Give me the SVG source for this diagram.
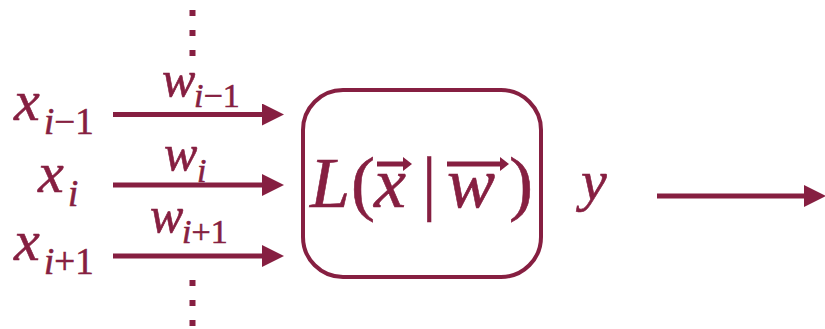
<svg xmlns="http://www.w3.org/2000/svg" width="825" height="329" viewBox="0 0 825 329">
<style>
text{font-family:'Liberation Serif','Times New Roman',serif;fill:#861F41;stroke:#861F41;stroke-width:0.6}
.i{font-style:italic}
.ln{stroke:#861F41;stroke-width:5;fill:none}
.hd{fill:#861F41}
</style>
<defs>
<marker id="ah" markerWidth="22" markerHeight="22" viewBox="0 0 22 22" refX="0" refY="11" orient="auto" markerUnits="userSpaceOnUse">
<path d="M0,0 L22,11 L0,22 z" fill="#861F41"/>
</marker>
</defs>
<rect width="825" height="329" fill="#fff"/>
<g id="connectors">
<line class="ln" x1="113" y1="114.5" x2="262" y2="114.5" marker-end="url(#ah)"/>
<line class="ln" x1="113" y1="185" x2="262" y2="185" marker-end="url(#ah)"/>
<line class="ln" x1="113" y1="256" x2="262" y2="256" marker-end="url(#ah)"/>
<line class="ln" x1="657" y1="196" x2="804" y2="196" marker-end="url(#ah)"/>
</g>
<g id="dots-top" class="hd">
<rect x="189.5" y="10" width="6" height="6"/>
<rect x="189.5" y="30" width="6" height="6"/>
<rect x="189.5" y="50" width="6" height="6"/>
</g>
<g id="dots-bottom" class="hd">
<rect x="189.5" y="280" width="6" height="6"/>
<rect x="189.5" y="300" width="6" height="6"/>
<rect x="189.5" y="320" width="6" height="6"/>
</g>
<g id="x-im1">
<text class="i" x="14" y="120" font-size="58">x</text>
<text x="44" y="134" font-size="37"><tspan class="i">i</tspan>−1</text>
</g>
<g id="x-i">
<text class="i" x="38" y="192" font-size="58">x</text>
<text class="i" x="68" y="206" font-size="37">i</text>
</g>
<g id="x-ip1">
<text class="i" x="14" y="260" font-size="58">x</text>
<text x="44" y="274" font-size="37"><tspan class="i">i</tspan>+1</text>
</g>
<g id="w-im1">
<text class="i" x="162" y="96" font-size="50">w</text>
<text x="194" y="107" font-size="34"><tspan class="i">i</tspan>−1</text>
</g>
<g id="w-i">
<text class="i" x="164" y="170" font-size="50">w</text>
<text class="i" x="197" y="182" font-size="34">i</text>
</g>
<g id="w-ip1">
<text class="i" x="150" y="232" font-size="50">w</text>
<text x="182" y="243" font-size="34"><tspan class="i">i</tspan>+1</text>
</g>
<g id="node-L">
<rect x="303" y="90" width="238" height="187" rx="40" ry="40" fill="none" stroke="#861F41" stroke-width="4"/>
<text class="i" x="310" y="207" font-size="72">L</text>
<text x="351" y="207" font-size="72">(</text>
<text class="i" x="374" y="207" font-size="72">x</text>
<text x="422" y="207" font-size="72">|</text>
<text class="i" x="447" y="207" font-size="72">w</text>
<text x="509" y="207" font-size="72">)</text>
<path class="ln" d="M377,164 H405" stroke-width="3"/>
<path class="hd" d="M403,157 L412,164 L403,171 z"/>
<path class="ln" d="M447,164 H502" stroke-width="3"/>
<path class="hd" d="M500,157 L509,164 L500,171 z"/>
</g>
<g id="y-label">
<text class="i" x="581" y="200" font-size="58">y</text>
</g>
</svg>
